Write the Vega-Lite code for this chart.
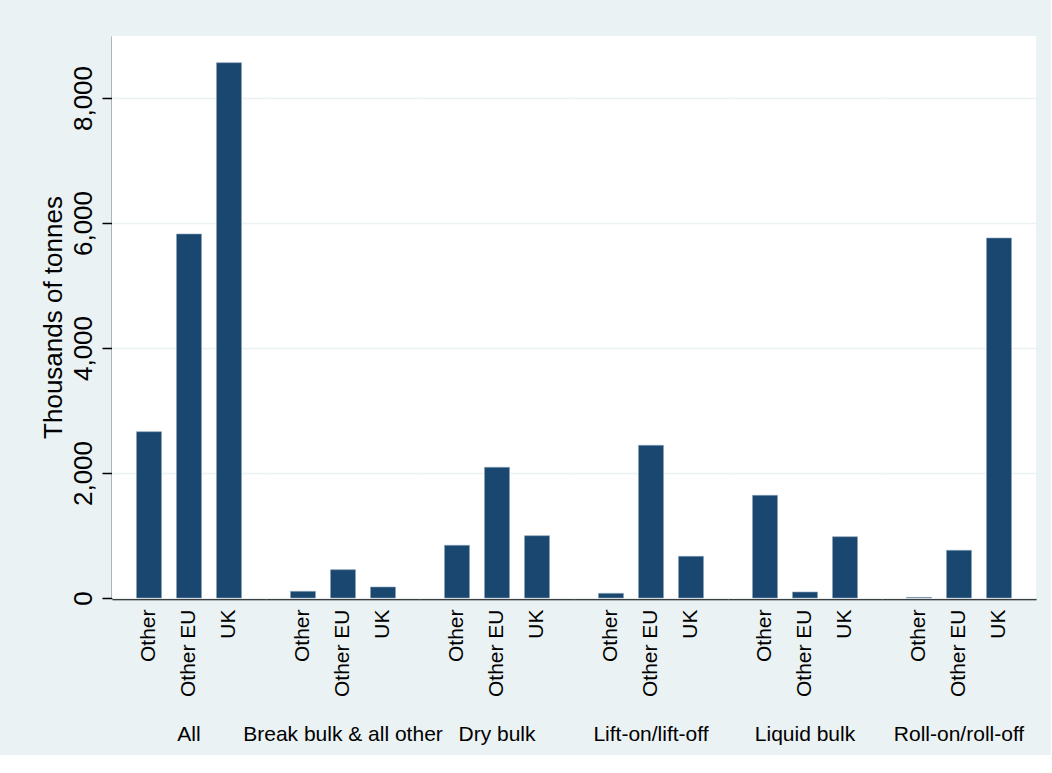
{
  "$schema": "https://vega.github.io/schema/vega-lite/v6.json",
  "background": "#eaf2f3",
  "padding": {"left": 40, "top": 36, "right": 15, "bottom": 10},
  "data": {
    "values": [
      {"group": "All", "dest": "Other", "value": 2661},
      {"group": "All", "dest": "Other EU", "value": 5824},
      {"group": "All", "dest": "UK", "value": 8565},
      {"group": "Break bulk & all other", "dest": "Other", "value": 107},
      {"group": "Break bulk & all other", "dest": "Other EU", "value": 453},
      {"group": "Break bulk & all other", "dest": "UK", "value": 176},
      {"group": "Dry bulk", "dest": "Other", "value": 843},
      {"group": "Dry bulk", "dest": "Other EU", "value": 2091},
      {"group": "Dry bulk", "dest": "UK", "value": 997},
      {"group": "Lift-on/lift-off", "dest": "Other", "value": 75},
      {"group": "Lift-on/lift-off", "dest": "Other EU", "value": 2443},
      {"group": "Lift-on/lift-off", "dest": "UK", "value": 667},
      {"group": "Liquid bulk", "dest": "Other", "value": 1643},
      {"group": "Liquid bulk", "dest": "Other EU", "value": 96},
      {"group": "Liquid bulk", "dest": "UK", "value": 981},
      {"group": "Roll-on/roll-off", "dest": "Other", "value": 10},
      {"group": "Roll-on/roll-off", "dest": "Other EU", "value": 763},
      {"group": "Roll-on/roll-off", "dest": "UK", "value": 5760}
    ]
  },
  "facet": {
    "column": {
      "field": "group",
      "type": "nominal",
      "sort": ["All", "Break bulk & all other", "Dry bulk", "Lift-on/lift-off", "Liquid bulk", "Roll-on/roll-off"],
      "header": {
        "title": null,
        "labelOrient": "bottom",
        "labelFont": "Liberation Sans",
        "labelFontSize": 21,
        "labelColor": "black",
        "labelPadding": 27
      }
    }
  },
  "spacing": 0,
  "spec": {
    "width": 154,
    "height": 562,
    "mark": {"type": "bar", "color": "#1a476f", "stroke": "#8aa2b8", "strokeWidth": 0.6},
    "encoding": {
      "x": {
        "field": "dest",
        "type": "nominal",
        "sort": ["Other", "Other EU", "UK"],
        "scale": {"paddingInner": 0.375, "paddingOuter": 0.6125},
        "axis": {
          "title": null,
          "labelAngle": 270,
          "labelFont": "Liberation Sans",
          "labelFontSize": 21,
          "labelColor": "black",
          "labelPadding": 10,
          "ticks": false,
          "tickSize": 0,
          "domainColor": "black",
          "domainWidth": 1.5,
          "grid": false
        }
      },
      "y": {
        "field": "value",
        "type": "quantitative",
        "scale": {"domain": [0, 8992], "nice": false},
        "axis": {
          "title": "Thousands of tonnes",
          "titleFont": "Liberation Sans",
          "titleFontSize": 26,
          "titleFontWeight": "normal",
          "titleColor": "black",
          "titlePadding": 4,
          "values": [0, 2000, 4000, 6000, 8000],
          "format": ",.0f",
          "labelAngle": 270,
          "labelAlign": "center",
          "labelBaseline": "bottom",
          "labelFont": "Liberation Sans",
          "labelFontSize": 26,
          "labelColor": "black",
          "labelPadding": 6,
          "tickSize": 10,
          "tickColor": "black",
          "tickWidth": 1.5,
          "domainColor": "black",
          "domainWidth": 1.5,
          "grid": true,
          "gridColor": "#eaf2f3",
          "gridWidth": 1.5
        }
      }
    }
  },
  "config": {
    "view": {"stroke": null, "fill": "white"},
    "font": "Liberation Sans"
  }
}
